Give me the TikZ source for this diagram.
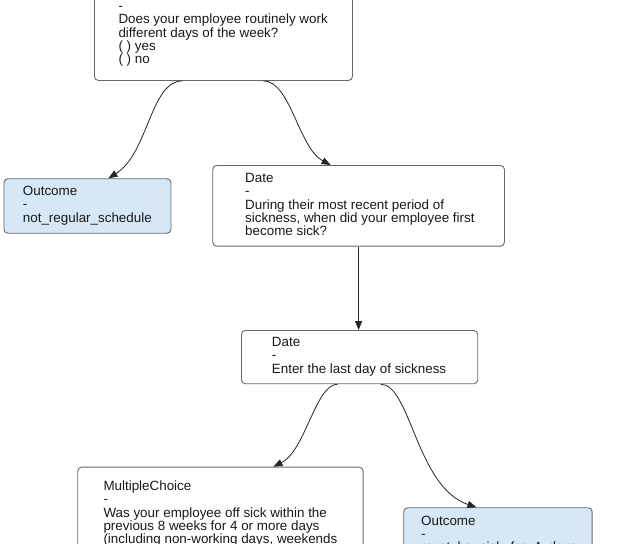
\documentclass[tikz,border=0pt]{standalone}
\usepackage{fontspec}
\setmainfont{Liberation Sans}
\usetikzlibrary{arrows.meta}
\definecolor{edgegray}{RGB}{105,105,105}
\definecolor{outfill}{RGB}{214,232,245}
\begin{document}
\begin{tikzpicture}[x=1pt,y=-1pt,
  box/.style={draw=edgegray, line width=0.9pt, rounded corners=4pt, fill=white, anchor=north west, inner sep=0pt},
  outbox/.style={box, fill=outfill},
  txt/.style={anchor=base west, inner sep=0pt, align=left, text=black!90, font=\fontsize{13.4pt}{13.2pt}\selectfont},
  link/.style={draw=black!85, line width=0.8pt, -{Triangle[length=9pt,width=7pt]}}]
\useasboundingbox[fill=white] (0,0) rectangle (620,543);
% boxes
\node[box, minimum width=258pt, minimum height=100pt] (q1) at (94,-20) {};
\node[outbox, minimum width=167pt, minimum height=54.5pt] (o1) at (3.5,178.3) {};
\node[box, minimum width=291.7pt, minimum height=80.7pt] (d1) at (212.3,165) {};
\node[box, minimum width=236.3pt, minimum height=53.3pt] (d2) at (241,330) {};
\node[box, minimum width=285.4pt, minimum height=120pt] (mc) at (77.3,466.7) {};
\node[outbox, minimum width=188.4pt, minimum height=80pt] (o2) at (403.3,507.3) {};
% texts (anchored at the baseline of their last line)
\node[txt] (q1t) at (118.3,63.4) {MultipleChoice\\-\\Does your employee routinely work\\different days of the week?\\( ) yes\\( ) no};
\node[txt] (o1t) at (22.7,222.1) {Outcome\\-\\not\_regular\_schedule};
\node[txt] (d1t) at (245,235.5) {Date\\-\\During their most recent period of\\sickness, when did your employee first\\become sick?};
\node[txt] (d2t) at (271.7,373.1) {Date\\-\\Enter the last day of sickness};
\node[txt] (mct) at (103.3,556.7) {MultipleChoice\\-\\Was your employee off sick within the\\previous 8 weeks for 4 or more days\\(including non-working days, weekends\\and bank holidays)?};
\node[txt] (o2t) at (421,551.4) {Outcome\\-\\must\_be\_sick\_for\_4\_days};
% connectors
\draw[link] ([xshift=-41pt]q1.south) .. controls +(-32,0) and +(40,-25) .. ([xshift=21pt]o1.north);
\draw[link] ([xshift=40pt]q1.south) .. controls +(27,0) and +(-32,-17) .. ([xshift=-28pt]d1.north);
\draw[link] (d1.south) -- (d1.south |- d2.north);
\draw[link] ([xshift=-22pt]d2.south) .. controls +(-22,0) and +(32,-16) .. ([xshift=53pt]mc.north);
\draw[link] ([xshift=21pt]d2.south) .. controls +(30,0) and +(-60,-20) .. ([xshift=-21.5pt]o2.north);
\end{tikzpicture}
\end{document}
